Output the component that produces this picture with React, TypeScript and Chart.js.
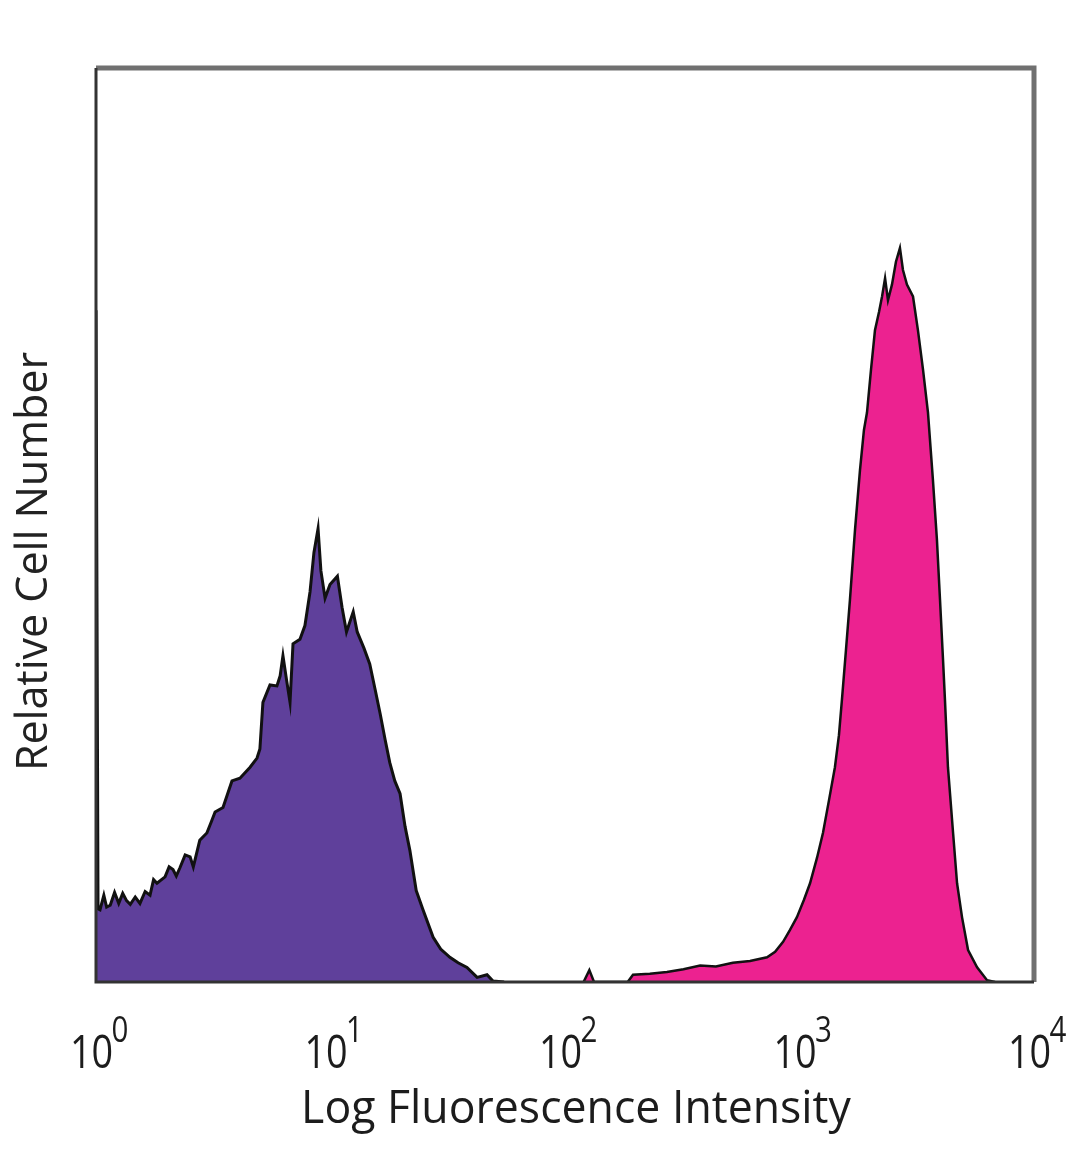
import React, { useEffect, useRef } from "react";
import { Chart, registerables } from "chart.js";

Chart.register(...registerables);

const xTickValues = [1, 10, 100, 1000, 10000];
const xTickExponents = ["0", "1", "2", "3", "4"];
const xTitle = "Log Fluorescence Intensity";
const yTitle = "Relative Cell Number";

const purpleX = [
  1.0, 1.02, 1.04, 1.08, 1.11, 1.15, 1.2, 1.25, 1.3, 1.35, 1.4, 1.47, 1.54, 1.62, 1.7, 1.76, 1.82, 1.97,
  2.05, 2.13, 2.2, 2.28, 2.4, 2.52, 2.6, 2.77, 2.97, 3.1, 3.22, 3.48, 3.8, 4.11, 4.54, 4.86, 5.0, 5.15,
  5.52, 5.91, 6.1, 6.27, 6.5, 6.72, 6.92, 7.41, 7.78, 8.18, 8.5, 8.85, 9.1, 9.48, 9.95, 10.7, 11.2, 11.7,
  12.5, 13.0, 13.9, 14.7, 15.5, 16.3, 17.1, 17.9, 18.8, 19.8, 20.8, 21.8, 23.2, 24.8, 27.4, 29.5, 32.3,
  35.0, 38.2, 42.2, 46.5, 49.3, 55.0,
];
const purpleY = [
  73.5, 8.0, 7.9, 9.5, 8.2, 8.4, 9.8, 8.6, 9.7, 8.9, 8.5, 9.3, 8.6, 9.9, 9.5, 11.2, 10.8, 11.5,
  12.6, 12.3, 11.6, 12.5, 13.9, 13.7, 12.6, 15.5, 16.3, 17.5, 18.6, 19.1, 22.0, 22.3, 23.5, 24.5, 25.5, 30.6,
  32.5, 32.4, 33.5, 35.7, 33.0, 30.6, 37.0, 37.5, 39.0, 42.7, 47.0, 49.6, 45.0, 42.0, 43.5, 44.4, 41.0, 38.3,
  40.5, 38.3, 36.5, 34.8, 32.0, 29.3, 26.5, 24.0, 22.0, 20.6, 17.0, 14.4, 10.0, 7.9, 4.9, 3.6, 2.7,
  2.1, 1.6, 0.5, 0.8, 0.1, 0.0,
];

const magentaX = [
  120, 127, 133, 185, 195, 230, 272, 320, 377, 440, 520, 615, 727, 787, 851, 911, 975, 1045, 1109, 1188,
  1259, 1336, 1416, 1473, 1517, 1578, 1641, 1725, 1811, 1883, 1940, 2018, 2098, 2183, 2249, 2317, 2384,
  2479, 2578, 2681, 2762, 2872, 3048, 3200, 3363, 3531, 3707, 3855, 3974, 4094, 4171, 4296, 4518, 4698,
  4932, 5234, 5719, 6306, 6820,
];
const magentaY = [
  0.0, 1.3, 0.0, 0.0, 0.8, 0.9, 1.1, 1.4, 1.8, 1.7, 2.1, 2.3, 2.7, 3.3, 4.4, 5.7, 7.1, 9.0, 10.8, 13.6,
  16.3, 19.9, 23.5, 27.0, 30.9, 36.3, 41.8, 49.5, 56.0, 60.4, 62.3, 67.0, 71.3, 73.3, 75.0, 77.0, 74.6,
  76.3, 78.8, 80.3, 77.9, 76.3, 75.0, 71.3, 67.0, 62.3, 54.9, 48.4, 41.8, 35.2, 30.9, 23.5, 16.3, 10.8,
  7.1, 3.5, 1.6, 0.2, 0.0,
];

const purpleColor = "#5f409b";
const magentaColor = "#ec2290";

const decorPlugin = {
  id: "decor",
  afterDraw(chart: any) {
    const ctx = chart.ctx as CanvasRenderingContext2D;
    const area = chart.chartArea;
    const xs = chart.scales.x;
    ctx.save();
    // frame
    ctx.strokeStyle = "#707070";
    ctx.lineWidth = 5;
    ctx.beginPath();
    ctx.moveTo(area.left, area.top);
    ctx.lineTo(area.right, area.top);
    ctx.lineTo(area.right, area.bottom);
    ctx.stroke();
    ctx.strokeStyle = "#333";
    ctx.lineWidth = 3;
    ctx.beginPath();
    ctx.moveTo(area.left, area.top);
    ctx.lineTo(area.left, area.bottom);
    ctx.lineTo(area.right, area.bottom);
    ctx.stroke();

    ctx.fillStyle = "#1c1c1c";
    // x tick labels with superscripts
    const baseFont = "46px 'Open Sans'";
    const supFont = "36px 'Open Sans'";
    const sx = 0.82;
    xTickValues.forEach((v, i) => {
      const px = xs.getPixelForValue(v);
      ctx.font = baseFont;
      const wb = ctx.measureText("10").width;
      ctx.font = supFont;
      const ws = ctx.measureText(xTickExponents[i]).width;
      const total = (wb + ws) * sx;
      ctx.save();
      ctx.translate(px - total / 2 + 4, 0);
      ctx.scale(sx, 1);
      ctx.textBaseline = "alphabetic";
      ctx.textAlign = "left";
      ctx.font = baseFont;
      ctx.fillText("10", 0, area.bottom + 86);
      ctx.font = supFont;
      ctx.fillText(xTickExponents[i], wb - 2, area.bottom + 60);
      ctx.restore();
    });

    // x title
    ctx.save();
    ctx.translate((area.left + area.right) / 2 + 11, area.bottom + 128);
    ctx.scale(0.97, 1);
    ctx.font = "500 46px 'Open Sans'";
    ctx.textAlign = "center";
    ctx.textBaseline = "middle";
    ctx.fillText(xTitle, 0, 0);
    ctx.restore();

    // y title
    ctx.save();
    ctx.translate(area.left - 61, area.top + (area.bottom - area.top) * 0.54);
    ctx.rotate(-Math.PI / 2);
    ctx.font = "500 43px 'Open Sans'";
    ctx.textAlign = "center";
    ctx.textBaseline = "middle";
    ctx.fillStyle = "#222";
    ctx.fillText(yTitle, 0, 0);
    ctx.restore();

    ctx.restore();
  },
};

export default function App() {
  const canvasRef = useRef<HTMLCanvasElement | null>(null);

  useEffect(() => {
    const canvas = canvasRef.current;
    if (!canvas) return;
    const chart = new Chart(canvas, {
      type: "line",
      data: {
        datasets: [
          {
            label: "Isotype",
            data: purpleX.map((x, i) => ({ x, y: purpleY[i] })),
            borderColor: "#111",
            borderWidth: 3,
            backgroundColor: purpleColor,
            fill: "origin",
            pointRadius: 0,
            tension: 0,
          },
          {
            label: "Stained",
            data: magentaX.map((x, i) => ({ x, y: magentaY[i] })),
            borderColor: "#111",
            borderWidth: 2.5,
            backgroundColor: magentaColor,
            fill: "origin",
            pointRadius: 0,
            tension: 0,
          },
        ],
      },
      options: {
        animation: false,
        responsive: false,
        maintainAspectRatio: false,
        layout: { padding: { left: 96, right: 46, top: 68, bottom: 187 } },
        plugins: { legend: { display: false }, tooltip: { enabled: false } },
        scales: {
          x: { type: "logarithmic", min: 1, max: 10000, display: false },
          y: { type: "linear", min: 0, max: 100, display: false },
        },
      },
      plugins: [decorPlugin],
    });
    return () => chart.destroy();
  }, []);

  return (
    <div style={{ position: "fixed", left: 0, top: 0, width: 1080, height: 1169, background: "#fff" }}>
      <canvas ref={canvasRef} width={1080} height={1169} />
    </div>
  );
}
